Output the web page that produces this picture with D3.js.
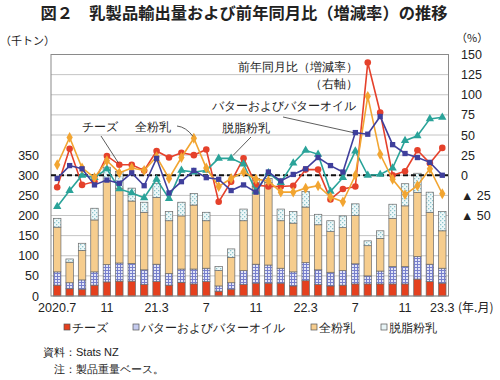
<!DOCTYPE html>
<html><head><meta charset="utf-8">
<script src="https://cdn.jsdelivr.net/npm/d3@7"></script>
<style>
body{margin:0;background:#fff}
svg{display:block}
text{font-family:"Liberation Sans",Arial,sans-serif;fill:#222}
.jp{font-family:"Noto Sans CJK JP","Noto Sans",sans-serif}
</style>
</head><body>
<svg id="c" width="500" height="380"></svg>
<script>
// ---- data ----
const tickLabels = ["2020.7","","","","11","","","","21.3","","","","7","","","","11","","","","22.3","","","","7","","","","11","","","23.3"];
const cheese = [27,18,17,27,35,37,37,29,36,27,34,30,36,12,17,29,32,32,32,25,38,29,25,27,30,30,30,30,30,42,36,32];
const butter = [33,15,23,33,43,45,44,36,43,29,33,37,33,13,16,34,47,45,37,35,45,36,34,36,50,20,32,43,43,56,43,37];
const wmp    = [111,51,73,129,208,186,155,143,166,131,132,159,118,38,63,124,193,205,118,121,138,112,101,107,120,75,81,120,151,159,129,93];
const smp    = [22,8,18,29,34,41,32,25,35,23,34,29,21,10,21,29,20,10,29,29,39,26,27,29,29,12,19,35,55,48,50,48];
const cheeseYoY = [-15,33,-12,-8,24,13,13,6,30,22,28,25,32,-33,-8,21,-12,-14,-14,-13,7,7,-30,-17,-14,140,78,0,5,31,15,34];
const butterYoY = [-4,12,8,-12,-6,-10,3,-13,21,-22,-8,6,-3,-5,-19,-12,-21,4,-7,1,8,22,12,4,53,51,73,38,27,22,16,0];
const wmpYoY    = [13,47,9,-3,18,3,9,6,23,-4,22,46,9,-14,-4,4,-5,-7,-21,-21,-16,-13,-27,-33,0,98,26,-5,-24,-13,8,-23];
const smpYoY    = [-39,-19,0,-3,8,-17,-22,-28,-5,-29,6,4,6,21,21,14,-20,3,-9,15,31,26,-20,-3,30,0,1,9,43,49,70,72];
const leftTicks = [0,50,100,150,200,250,300,350];
const rightTicks = [150,125,100,75,50,25,0,-25,-50];
const seriesNames = ["チーズ","バターおよびバターオイル","全粉乳","脱脂粉乳"];

// ---- layout ----
const svg = d3.select("#c");
const L = 51, R = 448.5, T = 54.5, B = 296;
const n = cheese.length;
const x = d3.scaleBand().domain(d3.range(n)).range([L, R]).paddingInner(0.4).paddingOuter(0.2);
const yL = d3.scaleLinear().domain([0, 600]).range([B, T]);
const yR = d3.scaleLinear().domain([-150, 150]).range([B, T]);
const cx = i => x(i) + x.bandwidth() / 2;

// patterns
const defs = svg.append("defs");
const pb = defs.append("pattern").attr("id","pButter").attr("patternUnits","userSpaceOnUse").attr("width",3).attr("height",3);
pb.append("rect").attr("width",3).attr("height",3).attr("fill","#e2e5f8");
pb.append("path").attr("d","M0,0.5H3M0.5,0V3").attr("stroke","#7880cc").attr("stroke-width",1);
const ps = defs.append("pattern").attr("id","pSmp").attr("patternUnits","userSpaceOnUse").attr("width",4).attr("height",4);
ps.append("rect").attr("width",4).attr("height",4).attr("fill","#eef8f9");
ps.append("rect").attr("x",0).attr("y",0).attr("width",1.3).attr("height",1.3).attr("fill","#8cc4cc");
ps.append("rect").attr("x",2).attr("y",2).attr("width",1.3).attr("height",1.3).attr("fill","#8cc4cc");

const barFills = ["#e5401e","url(#pButter)","#f6cd8e","url(#pSmp)"];
const legendFills = ["#e5401e","#c5cbef","#f6cd8e","#e8f4f6"];

// title
svg.append("text").attr("class","jp").attr("x",244).attr("y",19).attr("text-anchor","middle")
  .style("font-size","16.3px").style("font-weight","bold").text("図２　乳製品輸出量および前年同月比（増減率）の推移");
svg.append("text").attr("class","jp").attr("x",0).attr("y",45).style("font-size","11px").text("（千トン）");
svg.append("text").attr("class","jp").attr("x",456).attr("y",42).style("font-size","11px").text("（%）");

// grid
svg.append("g").selectAll("line").data(d3.range(0, 601, 50)).join("line")
  .attr("x1",L).attr("x2",R).attr("y1",d=>yL(d)).attr("y2",d=>yL(d))
  .attr("stroke","#c4c4c4").attr("stroke-width",1);

// stacked bars
const stackData = d3.range(n).map(i => ({i, c:cheese[i], b:butter[i], w:wmp[i], s:smp[i]}));
const stacked = d3.stack().keys(["c","b","w","s"])(stackData);
svg.append("g").selectAll("g").data(stacked).join("g")
  .attr("fill",(d,k)=>barFills[k])
  .selectAll("rect").data(d=>d).join("rect")
  .attr("x",d=>x(d.data.i)).attr("width",x.bandwidth())
  .attr("y",d=>yL(d[1])).attr("height",d=>yL(d[0])-yL(d[1]))
  .attr("stroke","#6a6a6a").attr("stroke-width",0.7);

// frame
svg.append("rect").attr("x",L).attr("y",T).attr("width",R-L).attr("height",B-T)
  .attr("fill","none").attr("stroke","#8a8a8a").attr("stroke-width",1);

// zero dashed line (right axis)
svg.append("line").attr("x1",L).attr("x2",R).attr("y1",yR(0)).attr("y2",yR(0))
  .attr("stroke","#111").attr("stroke-width",1.8).attr("stroke-dasharray","5,3");

// lines
const lineSeries = [
  {v:cheeseYoY, c:"#e5412b", sym:d3.symbolCircle, size:34},
  {v:smpYoY,    c:"#2aa399", sym:d3.symbolTriangle, size:30},
  {v:wmpYoY,    c:"#f2a531", sym:d3.symbolDiamond, size:34},
  {v:butterYoY, c:"#3f3f9c", sym:d3.symbolSquare, size:28},
];
const line = d3.line().x((d,i)=>cx(i)).y(d=>yR(d));
lineSeries.forEach(s=>{
  svg.append("path").datum(s.v).attr("d",line).attr("fill","none").attr("stroke",s.c).attr("stroke-width",1.6);
  svg.append("g").selectAll("path").data(s.v).join("path")
    .attr("d",d3.symbol().type(s.sym).size(s.size))
    .attr("transform",(d,i)=>`translate(${cx(i)},${yR(d)})`)
    .attr("fill",s.c);
});

// left axis labels
svg.append("g").selectAll("text").data(leftTicks).join("text")
  .attr("x",39).attr("y",d=>yL(d)+4.5).attr("text-anchor","end").style("font-size","12.5px").text(d=>d);
// right axis labels
svg.append("g").selectAll("text").data(rightTicks).join("text")
  .attr("x",461).attr("y",d=>yR(d)+4.5).style("font-size","12.5px")
  .text(d=> d<0 ? "▲ "+(-d) : d);

// x labels
svg.append("g").selectAll("text").data(tickLabels.map((t,i)=>({t,i})).filter(d=>d.t)).join("text")
  .attr("x",d=>cx(d.i)).attr("y",312).attr("text-anchor","middle").style("font-size","12.5px").text(d=>d.t);
svg.append("text").attr("class","jp").attr("x",458).attr("y",312).style("font-size","12px").text("(年.月)");

// annotations
const ann = svg.append("g").attr("class","jp").style("font-size","12px");
ann.append("text").attr("x",358).attr("y",71).attr("text-anchor","end").text("前年同月比（増減率）");
ann.append("text").attr("x",358).attr("y",88).attr("text-anchor","end").text("（右軸）");
ann.append("text").attr("x",356).attr("y",110).attr("text-anchor","end").text("バターおよびバターオイル");
ann.append("text").attr("x",222).attr("y",132).text("脱脂粉乳");
ann.append("text").attr("x",82).attr("y",131).text("チーズ");
ann.append("text").attr("x",135).attr("y",131).text("全粉乳");
const lines = svg.append("g").attr("stroke","#333").attr("stroke-width",0.8).attr("fill","none");
lines.append("line").attr("x1",283).attr("y1",117).attr("x2",cx(24)-2).attr("y2",yR(butterYoY[24]));
lines.append("line").attr("x1",251).attr("y1",137).attr("x2",cx(14)+2).attr("y2",yR(smpYoY[14])-3);
lines.append("line").attr("x1",101).attr("y1",136).attr("x2",cx(5)-1).attr("y2",yR(cheeseYoY[5])-2);
lines.append("path").attr("d",`M177,126 Q186,127 ${cx(11)-1},${yR(wmpYoY[11])-2}`);

// legend
const lg = svg.append("g").attr("class","jp").style("font-size","12px");
const lx = [64, 133, 311, 381];
seriesNames.forEach((nm,k)=>{
  lg.append("rect").attr("x",lx[k]).attr("y",324).attr("width",6).attr("height",6)
    .attr("fill",legendFills[k]).attr("stroke","#555").attr("stroke-width",0.7);
  lg.append("text").attr("x",lx[k]+8).attr("y",332).text(nm);
});

// source
const src = svg.append("g").attr("class","jp").style("font-size","11px");
src.append("text").attr("x",43).attr("y",356).text("資料：Stats NZ");
src.append("text").attr("x",54).attr("y",373).text("注：製品重量ベース。");
</script>
</body></html>
